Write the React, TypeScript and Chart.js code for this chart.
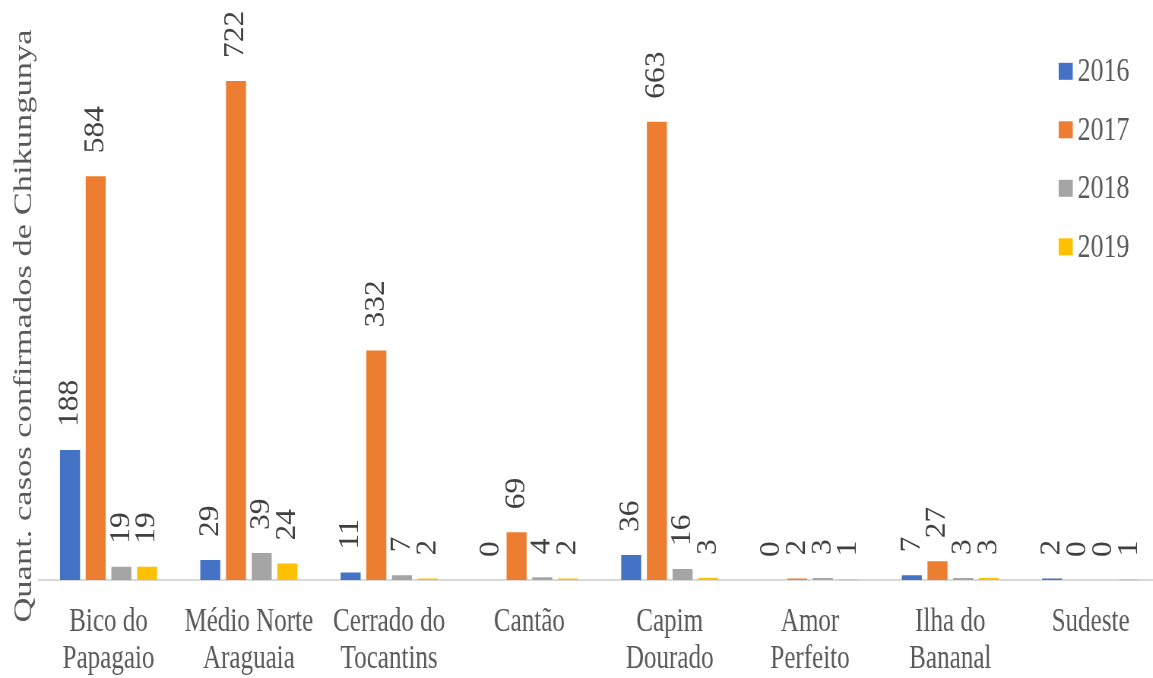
import React, { useEffect, useRef } from "react";
import { Chart, registerables } from "chart.js";

Chart.register(...registerables);

const categories: string[][] = [
  ["Bico do", "Papagaio"],
  ["Médio Norte", "Araguaia"],
  ["Cerrado do", "Tocantins"],
  ["Cantão"],
  ["Capim", "Dourado"],
  ["Amor", "Perfeito"],
  ["Ilha do", "Bananal"],
  ["Sudeste"],
];

const seriesNames = ["2016", "2017", "2018", "2019"];
const values2016 = [188, 29, 11, 0, 36, 0, 7, 2];
const values2017 = [584, 722, 332, 69, 663, 2, 27, 0];
const values2018 = [19, 39, 7, 4, 16, 3, 3, 0];
const values2019 = [19, 24, 2, 2, 3, 1, 3, 1];
const seriesColors = ["#4472C4", "#ED7D31", "#A5A5A5", "#FFC000"];

const yTitle = "Quant. casos confirmados de Chikungunya";

const SQUISH = 0.76;
const CANVAS_W = 1540;
const CANVAS_H = 678;
const FONT = "'Liberation Serif', 'Times New Roman', serif";

const dataLabelPlugin = {
  id: "dataLabels",
  afterDatasetsDraw(chart: any) {
    const ctx = chart.ctx;
    ctx.save();
    ctx.font = `31.5px ${FONT}`;
    ctx.fillStyle = "#404040";
    chart.data.datasets.forEach((ds: any, i: number) => {
      const meta = chart.getDatasetMeta(i);
      meta.data.forEach((el: any, j: number) => {
        const v = ds.data[j];
        ctx.save();
        ctx.translate(el.x, el.y - 23);
        ctx.rotate(-Math.PI / 2);
        ctx.scale(1, 1.2);
        ctx.textAlign = "left";
        ctx.textBaseline = "middle";
        ctx.fillText(String(v), 0, 0);
        ctx.restore();
      });
    });
    ctx.restore();
  },
};

const legendPlugin = {
  id: "customLegend",
  afterDraw(chart: any) {
    const ctx = chart.ctx;
    ctx.save();
    ctx.font = `34px ${FONT}`;
    ctx.textAlign = "left";
    ctx.textBaseline = "middle";
    chart.data.datasets.forEach((ds: any, i: number) => {
      const cy = 71.3 + i * 58.5;
      ctx.fillStyle = ds.backgroundColor;
      ctx.fillRect(1393, cy - 8.5, 18.5, 17);
      ctx.fillStyle = "#595959";
      ctx.fillText(ds.label, 1418, cy + 1);
    });
    ctx.restore();
  },
};

export default function App() {
  const ref = useRef<HTMLCanvasElement | null>(null);

  useEffect(() => {
    if (!ref.current) return;
    const allValues = [values2016, values2017, values2018, values2019];
    const chart = new Chart(ref.current, {
      type: "bar",
      data: {
        labels: categories,
        datasets: seriesNames.map((name, i) => ({
          label: name,
          data: allValues[i],
          backgroundColor: seriesColors[i],
          borderWidth: 0,
          categoryPercentage: 0.732,
          barPercentage: 0.78,
        })),
      },
      options: {
        responsive: false,
        animation: false,
        devicePixelRatio: 1,
        layout: { padding: { top: 72, right: 12.7, left: 0, bottom: 0 } },
        plugins: {
          legend: { display: false },
          tooltip: { enabled: false },
        },
        scales: {
          x: {
            grid: { display: false },
            border: { display: true, color: "#D9D9D9", width: 2 },
            ticks: {
              color: "#595959",
              font: { family: FONT, size: 33, lineHeight: 1.12 },
              padding: 16,
              maxRotation: 0,
              autoSkip: false,
            },
            afterFit: (scale: any) => {
              scale.height = 98;
            },
          },
          y: {
            min: 0,
            max: 735,
            grid: { display: false },
            border: { display: false },
            ticks: { display: false },
            title: {
              display: true,
              text: yTitle,
              color: "#595959",
              font: { family: FONT, size: 34.5, lineHeight: 1.2 },
              padding: { top: 11.5, bottom: 0 },
            },
            afterFit: (scale: any) => {
              scale.width = 50.5;
            },
          },
        },
      },
      plugins: [dataLabelPlugin, legendPlugin],
    });
    return () => chart.destroy();
  }, []);

  return (
    <div
      style={{
        position: "fixed",
        left: 0,
        top: 0,
        width: 1153,
        height: 678,
        overflow: "hidden",
        background: "#fff",
      }}
    >
      <canvas
        ref={ref}
        width={CANVAS_W}
        height={CANVAS_H}
        style={{
          width: CANVAS_W,
          height: CANVAS_H,
          transform: `scaleX(${SQUISH})`,
          transformOrigin: "left top",
          display: "block",
        }}
      />
    </div>
  );
}
